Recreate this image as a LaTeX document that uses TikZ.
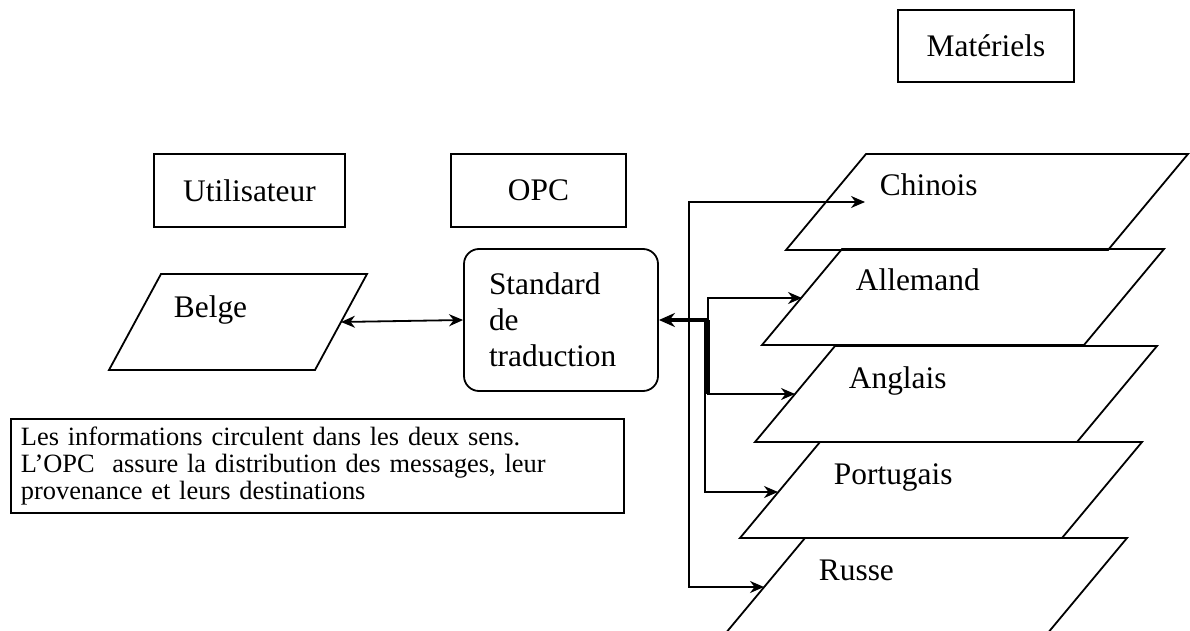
\documentclass[tikz,border=0pt]{standalone}
\usepackage{fontspec}
\setmainfont{Liberation Serif}
\usetikzlibrary{arrows.meta}
\tikzset{
  cadre/.style={draw,rectangle,inner sep=0pt,font=\fontsize{15.7}{18}\selectfont},
  langue/.style={anchor=base west,inner sep=0pt,font=\fontsize{15.7}{18}\selectfont},
  epais/.style={line width=1.6pt},
}
\begin{document}
\begin{tikzpicture}[>={Stealth[length=7pt,width=6pt]},x=0.5pt,y=-0.5pt,line width=0.9pt]
\useasboundingbox (0,0) rectangle (1190,631);
% en-tetes
\node[cadre,minimum width=88pt,minimum height=36pt] (materiels) at (986,46) {Matériels};
\node[cadre,minimum width=95.5pt,minimum height=36.5pt] (utilisateur) at (249.5,190.5) {Utilisateur};
\node[cadre,minimum width=87.5pt,minimum height=36.5pt] (opc) at (538.5,190.5) {OPC};
\node[cadre,rounded corners=7.5pt,minimum width=97pt,minimum height=71pt,text width=72pt,align=left] (std) at (561,320) {Standard\\de\\traduction};

% utilisateur belge
\draw (161,274) -- (367,274) -- (315,370) -- (109,370) -- cycle;
\node[langue] (belge) at (173,317) {Belge};
\coordinate (belge-out) at (341,322);

\node[draw,anchor=north west,minimum width=306.5pt,minimum height=47pt,text width=296.5pt,inner xsep=5pt,inner ysep=0pt,align=left,font=\fontsize{13.2}{13.5}\selectfont] (note) at (10,418)
{Les informations circulent dans les deux sens.\\L’OPC\ \ assure la distribution des messages, leur\\provenance et leurs destinations};

% materiels
\foreach \nom/\tl/\ty/\ax/\ay/\lab in {chinois/866/154/865/202/Chinois,allemand/842/249/802/298/Allemand,anglais/835/346/795/394/Anglais,portugais/820/442/778/492/Portugais,russe/805/538/764/587/Russe}{
  \draw (\tl,\ty) -- ++(322,0) -- ++(-80,96) -- ++(-322,0) -- cycle;
  \node[langue] (\nom) at (\tl+13,\ty+42) {\lab};
  \coordinate (\nom-in) at (\ax,\ay);
}

\coordinate (hub) at (708,320);
\coordinate (hubA) at (689,320);
\coordinate (hubB) at (705,320);
\draw[<->] (belge-out) -- (std.west);
\draw[epais,-{Stealth[length=8pt,width=7pt]}] (hub) -- (std.east);
\draw[->] (hubA) |- (chinois-in);
\draw[->] (hub) |- (allemand-in);
\draw[->] (hub) |- (anglais-in);
\draw[epais] (hub) -- (hub |- anglais-in);
\draw[->] (hubB) |- (portugais-in);
\draw[->] (hubA) |- (russe-in);
\end{tikzpicture}
\end{document}
